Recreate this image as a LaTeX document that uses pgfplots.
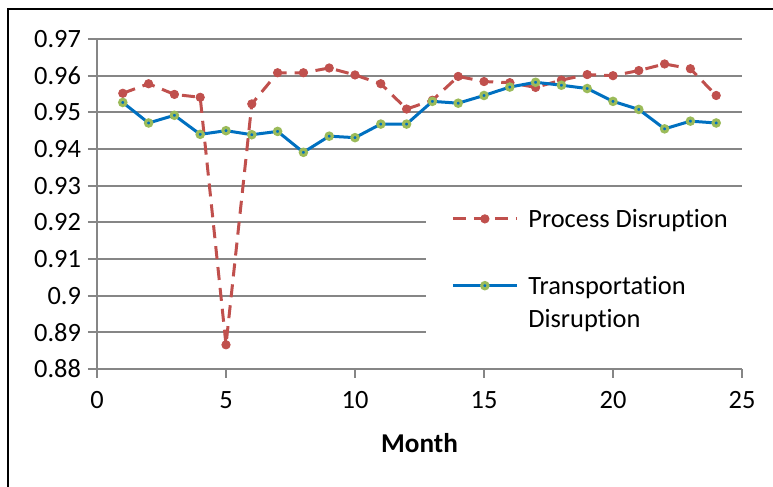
\documentclass[border=0pt]{standalone}
\usepackage{pgfplots}
\pgfplotsset{compat=1.18}
\usepackage{fontspec}
\setmainfont[Ligatures=NoCommon]{Carlito}
\definecolor{pd}{RGB}{192,80,77}
\definecolor{td}{RGB}{0,112,192}
\definecolor{tdg}{RGB}{155,187,89}
\definecolor{gridc}{RGB}{134,134,134}
\newcommand{\rowB}{\rule[-4pt]{0pt}{14pt}}
\begin{document}
\begin{tikzpicture}[x=1pt,y=1pt]
\useasboundingbox (0,0) rectangle (386.5,243.5);
\draw[line width=1pt] (3.75,0) -- (3.75,239) -- (386.5,239);
\begin{axis}[
  at={(48.5pt,59pt)}, anchor=south west,
  scale only axis, width=322.5pt, height=165pt,
  xmin=0, xmax=25, ymin=0.88, ymax=0.97,
  xtick={0,5,10,15,20,25},
  ytick={0.88,0.89,0.9,0.91,0.92,0.93,0.94,0.95,0.96,0.97},
  axis lines=left,
  axis line style={-, gridc, line width=1pt},
  ymajorgrids, grid style={gridc, line width=1pt},
  major tick style={gridc, line width=1pt},
  major tick length=4.5pt, tick align=outside,
  tick label style={font=\fontsize{13.2}{15}\selectfont},
  xticklabel style={yshift=-3pt},
  /pgf/number format/assume math mode=true,
  yticklabel style={/pgf/number format/fixed, /pgf/number format/precision=2},
  xlabel={\textbf{Month}},
  xlabel style={font=\fontsize{13.6}{15}\selectfont, at={(axis description cs:0.5,0)}, anchor=center, yshift=-37pt},
  legend cell align=left,
  legend style={at={(axis cs:13.72,0.92528)}, anchor=north west, draw=none, fill=none,
    font=\fontsize{13.2}{15}\selectfont, row sep=1.2pt, column sep=3pt, inner sep=0pt},
  legend image code/.code={\draw[mark repeat=2,mark phase=2] plot coordinates {(0pt,0pt) (16pt,0pt) (32pt,0pt)};},
  clip=false,
]
\fill[white] (axis cs:12.75,0.8855) rectangle (axis cs:25,0.9255);
\addplot[pd, line width=1.5pt, dash pattern=on 6.5pt off 4pt, mark=*, mark size=2.1pt, mark options={solid, fill=pd, draw=pd, line width=0.4pt}]
coordinates {
(1,0.9552) (2,0.9578) (3,0.9549) (4,0.9541) (5,0.8866) (6,0.9523)
(7,0.9608) (8,0.9608) (9,0.9621) (10,0.9602) (11,0.9578) (12,0.9509)
(13,0.9533) (14,0.9598) (15,0.9584) (16,0.9581) (17,0.9568) (18,0.9588)
(19,0.9603) (20,0.9600) (21,0.9614) (22,0.9632) (23,0.9619) (24,0.9546)};
\addlegendentry{\rowB Process Disruption}
\addlegendimage{empty legend}
\addlegendentry{\rowB}
\addplot[td, line width=1.5pt, mark=*, mark size=1.6pt, mark options={solid, fill=td, draw=tdg, line width=1.5pt}]
coordinates {
(1,0.9527) (2,0.9471) (3,0.9492) (4,0.9440) (5,0.9450) (6,0.9439)
(7,0.9448) (8,0.9391) (9,0.9435) (10,0.9431) (11,0.9468) (12,0.9468)
(13,0.9530) (14,0.9525) (15,0.9546) (16,0.9569) (17,0.9582) (18,0.9574)
(19,0.9565) (20,0.9530) (21,0.9508) (22,0.9455) (23,0.9476) (24,0.9471)};
\addlegendentry{\rowB Transportation}
\addlegendimage{empty legend}
\addlegendentry{\rowB Disruption}
\end{axis}
\end{tikzpicture}
\end{document}
